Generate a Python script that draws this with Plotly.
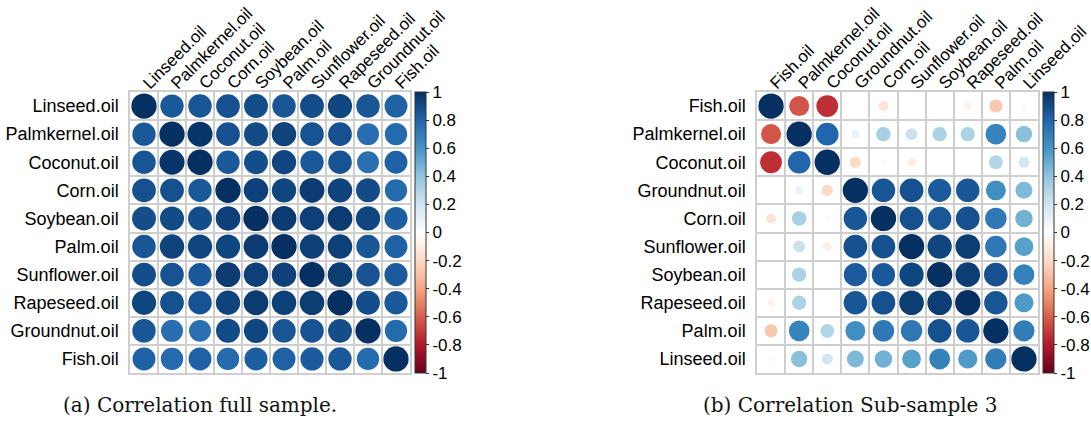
import numpy as np
import plotly.graph_objects as go

# ---------------- data ----------------
full_labels = ["Linseed.oil", "Palmkernel.oil", "Coconut.oil", "Corn.oil", "Soybean.oil",
               "Palm.oil", "Sunflower.oil", "Rapeseed.oil", "Groundnut.oil", "Fish.oil"]
full_corr = [
    [1.00, 0.85, 0.86, 0.88, 0.89, 0.86, 0.89, 0.92, 0.86, 0.82],
    [0.85, 1.00, 0.98, 0.88, 0.90, 0.93, 0.87, 0.88, 0.76, 0.78],
    [0.86, 0.98, 1.00, 0.85, 0.89, 0.92, 0.85, 0.87, 0.75, 0.82],
    [0.88, 0.88, 0.85, 1.00, 0.94, 0.92, 0.96, 0.93, 0.90, 0.78],
    [0.89, 0.90, 0.89, 0.94, 1.00, 0.96, 0.94, 0.96, 0.92, 0.83],
    [0.86, 0.93, 0.92, 0.92, 0.96, 1.00, 0.94, 0.94, 0.86, 0.82],
    [0.89, 0.87, 0.85, 0.96, 0.94, 0.94, 1.00, 0.95, 0.87, 0.84],
    [0.92, 0.88, 0.87, 0.93, 0.96, 0.94, 0.95, 1.00, 0.89, 0.85],
    [0.86, 0.76, 0.75, 0.90, 0.92, 0.86, 0.87, 0.89, 1.00, 0.78],
    [0.82, 0.78, 0.82, 0.78, 0.83, 0.82, 0.84, 0.85, 0.78, 1.00],
]

sub_labels = ["Fish.oil", "Palmkernel.oil", "Coconut.oil", "Groundnut.oil", "Corn.oil",
              "Sunflower.oil", "Soybean.oil", "Rapeseed.oil", "Palm.oil", "Linseed.oil"]
sub_corr = [
    [1.00, -0.63, -0.74, 0.01, -0.15, 0.01, 0.01, -0.08, -0.27, 0.04],
    [-0.63, 1.00, 0.80, 0.10, 0.33, 0.22, 0.32, 0.32, 0.67, 0.42],
    [-0.74, 0.80, 1.00, -0.20, 0.04, -0.10, 0.01, 0.01, 0.30, 0.19],
    [0.01, 0.10, -0.20, 1.00, 0.86, 0.88, 0.84, 0.86, 0.62, 0.45],
    [-0.15, 0.33, 0.04, 0.86, 1.00, 0.88, 0.85, 0.88, 0.72, 0.48],
    [0.01, 0.22, -0.10, 0.88, 0.88, 1.00, 0.92, 0.95, 0.72, 0.55],
    [0.01, 0.32, 0.01, 0.84, 0.85, 0.92, 1.00, 0.95, 0.88, 0.68],
    [-0.08, 0.32, 0.01, 0.86, 0.88, 0.95, 0.95, 1.00, 0.86, 0.57],
    [-0.27, 0.67, 0.30, 0.62, 0.72, 0.72, 0.88, 0.86, 1.00, 0.70],
    [0.04, 0.42, 0.19, 0.45, 0.48, 0.55, 0.68, 0.57, 0.70, 1.00],
]

captions = ["(a) Correlation full sample.", "(b) Correlation Sub-sample 3"]
cbar_ticks = [1, 0.8, 0.6, 0.4, 0.2, 0, -0.2, -0.4, -0.6, -0.8, -1]
cbar_text = ["1", "0.8", "0.6", "0.4", "0.2", "0", "-0.2", "-0.4", "-0.6", "-0.8", "-1"]

# ---------------- style ----------------
W, H = 1091, 426
RDBU = ["#67001F", "#B2182B", "#D6604D", "#F4A582", "#FDDBC7", "#FFFFFF",
        "#D1E5F0", "#92C5DE", "#4393C3", "#2166AC", "#053061"]
colorscale = [[i / 10, c] for i, c in enumerate(RDBU)]
LABEL_FONT = dict(family="Liberation Sans, Arial, sans-serif", size=18, color="#000000")
COL_FONT = dict(family="Liberation Sans, Arial, sans-serif", size=17, color="#000000")
CB_FONT = dict(family="Liberation Sans, Arial, sans-serif", size=17, color="#000000")
GRID = "#cfcfcf"

panels = [
    dict(labels=full_labels, corr=full_corr, x0=130, x1=410, cb_x=415, cap_x=200),
    dict(labels=sub_labels, corr=sub_corr, x0=757, x1=1038, cb_x=1043, cap_x=850),
]
y_top, y_bot = 92, 373
cell_px = (y_bot - y_top) / 10.0

fig = go.Figure()
layout = dict(width=W, height=H, margin=dict(l=0, r=0, t=0, b=0, autoexpand=False),
              paper_bgcolor="white", plot_bgcolor="white", showlegend=False)

for k, p in enumerate(panels):
    labs = p["labels"]
    M = np.array(p["corr"])
    n = len(labs)
    xs, ys, vals = [], [], []
    for i in range(n):
        for j in range(n):
            xs.append(labs[j])
            ys.append(labs[i])
            vals.append(M[i, j])
    vals = np.array(vals)
    sizes = 0.9 * cell_px * np.sqrt(np.abs(vals))
    xa = "x" if k == 0 else "x2"
    ya = "y" if k == 0 else "y2"
    fig.add_trace(go.Scatter(
        x=xs, y=ys, mode="markers", xaxis=xa, yaxis=ya, hoverinfo="skip",
        marker=dict(
            size=sizes, color=vals, colorscale=colorscale, cmin=-1, cmax=1,
            line=dict(width=0), symbol="circle", opacity=1,
            colorbar=dict(
                x=p["cb_x"] / W, xanchor="left", xref="paper",
                y=1 - (y_top + y_bot) / 2 / H, yanchor="middle",
                len=(y_bot - y_top) / H, lenmode="fraction",
                thickness=11, thicknessmode="pixels",
                outlinewidth=1, outlinecolor="#333333",
                tickvals=cbar_ticks, ticktext=cbar_text,
                ticks="outside", ticklen=3, tickcolor="#333333",
                tickfont=CB_FONT, ypad=0, xpad=0,
            ),
        ),
    ))
    dom_x = [p["x0"] / W, p["x1"] / W]
    dom_y = [1 - y_bot / H, 1 - y_top / H]
    xkey = "xaxis" if k == 0 else "xaxis2"
    ykey = "yaxis" if k == 0 else "yaxis2"
    layout[xkey] = dict(
        domain=dom_x, anchor=ya, type="category", categoryorder="array",
        categoryarray=labs, side="top", tickangle=-45, tickson="boundaries",
        showgrid=True, gridcolor=GRID, gridwidth=1.5, ticks="", zeroline=False,
        showline=True, linecolor=GRID, linewidth=1.5, mirror=True, automargin=False,
        tickfont=COL_FONT, range=[-0.5, n - 0.5], fixedrange=True,
        ticklabelstandoff=-9,
    )
    layout[ykey] = dict(
        domain=dom_y, anchor=xa, type="category", categoryorder="array",
        categoryarray=labs[::-1], tickson="boundaries",
        showgrid=True, gridcolor=GRID, gridwidth=1.5, ticks="", zeroline=False,
        showline=True, linecolor=GRID, linewidth=1.5, mirror=True, automargin=False,
        tickfont=LABEL_FONT, range=[-0.5, n - 0.5], fixedrange=True,
        ticklabelstandoff=6,
    )

fig.update_layout(**layout)

for k, p in enumerate(panels):
    fig.add_annotation(
        x=p["cap_x"] / W, y=1 - 405 / H, xref="paper", yref="paper",
        text=captions[k], showarrow=False, xanchor="center", yanchor="middle",
        font=dict(family="DejaVu Serif, serif", size=20, color="#111111"),
    )

fig.write_html(
    "out.html",
    config={"displayModeBar": False},
    post_script="document.body.style.margin='0';document.body.style.overflow='hidden';",
)
